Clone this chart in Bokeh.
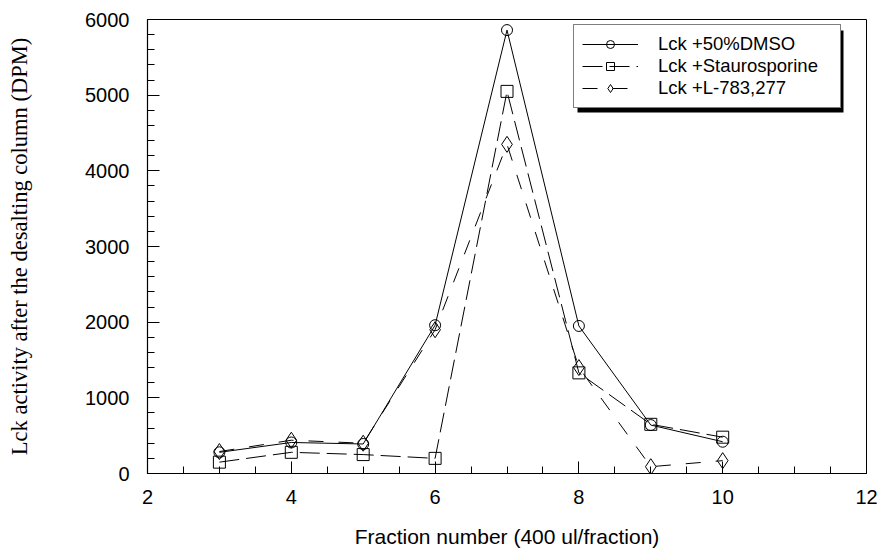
from bokeh.plotting import figure
from bokeh.models import (Range1d, SingleIntervalTicker, Legend, LegendItem, BoxAnnotation)
from bokeh.embed import file_html
from bokeh.resources import INLINE

fractions = [3, 4, 5, 6, 7, 8, 9, 10]
dmso = [280, 410, 390, 1960, 5860, 1950, 640, 420]
stauro = [150, 280, 250, 200, 5050, 1330, 650, 480]
l783 = [290, 440, 400, 1900, 4350, 1400, 90, 170]
labels = ["Lck +50%DMSO", "Lck +Staurosporine", "Lck +L-783,277"]

p = figure(width=879, height=552, output_backend="svg", toolbar_location=None,
           x_range=Range1d(2, 12), y_range=Range1d(0, 6000),
           min_border_left=147, min_border_right=13, min_border_top=19, min_border_bottom=79)
p.background_fill_color = "white"
p.border_fill_color = "white"
p.grid.visible = False
p.outline_line_color = "black"
p.outline_line_width = 1

p.xaxis.ticker = SingleIntervalTicker(interval=2, num_minor_ticks=4)
p.yaxis.ticker = SingleIntervalTicker(interval=1000, num_minor_ticks=5)
for ax in (p.xaxis[0], p.yaxis[0]):
    ax.major_tick_in = 12
    ax.major_tick_out = 0
    ax.minor_tick_in = 7
    ax.minor_tick_out = 0
    ax.axis_line_color = "black"
    ax.axis_line_width = 1.2
    ax.major_tick_line_color = "black"
    ax.minor_tick_line_color = "black"
    ax.major_label_text_font = "Liberation Sans"
    ax.major_label_text_font_size = "20px"
    ax.major_label_text_color = "black"
    ax.axis_label_text_color = "black"
    ax.axis_label_text_font_style = "normal"

p.xaxis.major_label_standoff = 16
p.yaxis.major_label_standoff = 18
p.xaxis.axis_label = "Fraction number (400 ul/fraction)"
p.xaxis.axis_label_text_font = "Liberation Sans"
p.xaxis.axis_label_text_font_size = "21px"
p.xaxis.axis_label_standoff = 18
p.yaxis.axis_label = "Lck activity after the desalting column (DPM)"
p.yaxis.axis_label_text_font = "Liberation Serif"
p.yaxis.axis_label_text_font_size = "22.5px"
p.yaxis.axis_label_standoff = 50

l1 = p.line(fractions, dmso, line_color="black", line_width=1)
m1 = p.scatter(fractions, dmso, marker="circle", size=11, fill_color=None, line_color="black", line_width=1)
l2 = p.line(fractions, stauro, line_color="black", line_width=1, line_dash="20 7")
m2 = p.scatter(fractions, stauro, marker="square", size=12, fill_color=None, line_color="black", line_width=1)
l3 = p.line(fractions, l783, line_color="black", line_width=1, line_dash="15 15")
m3 = p.scatter(fractions, l783, marker="diamond", size=16, fill_color=None, line_color="black", line_width=1)

shadow = BoxAnnotation(left=430, right=696, bottom=361, top=443,
                       left_units="screen", right_units="screen",
                       bottom_units="screen", top_units="screen",
                       fill_color="black", fill_alpha=1, line_color=None)
p.add_layout(shadow)

legend = Legend(items=[LegendItem(label=labels[0], renderers=[l1, m1]),
                       LegendItem(label=labels[1], renderers=[l2, m2]),
                       LegendItem(label=labels[2], renderers=[l3, m3])],
                location=(426, 365))
legend.border_line_color = "black"
legend.border_line_width = 1.5
legend.background_fill_color = "white"
legend.background_fill_alpha = 1
legend.padding = 8
legend.margin = 0
legend.spacing = 0
legend.glyph_height = 20
legend.label_height = 20
legend.glyph_width = 56
legend.label_standoff = 20
legend.label_width = 174
legend.label_text_font = "Liberation Sans"
legend.label_text_font_size = "18.5px"
legend.label_text_color = "black"
p.add_layout(legend)

open("out.html", "w").write(file_html(p, INLINE))
